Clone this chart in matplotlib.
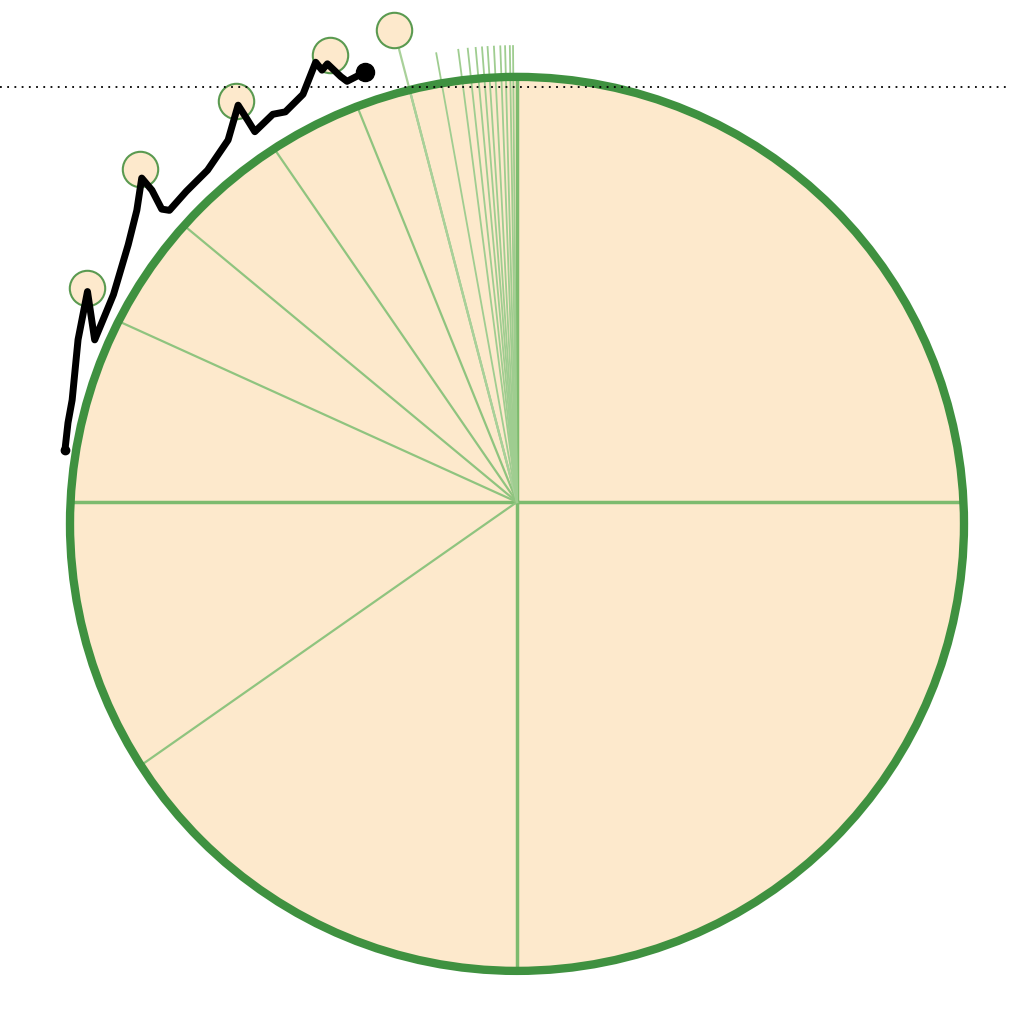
import numpy as np
import matplotlib.pyplot as plt
from matplotlib.patches import Circle

# slice boundaries (degrees, counter-clockwise from the right)
main_edges = [90, 0, 270, 180]
slice_edges = [215, 155.6, 140.3, 124.5, 112, 104.6]
thin_edges = [100.2, 97.4, 96.2, 95.2, 94.4, 93.7, 92.9, 92.1, 91.5, 90.9, 90.5]

# price trace along the rim: angle (deg) and distance from the hub
trace_ang = [173.4, 170.0, 167.1, 159.7, 153.9, 159.0, 155.8, 152.8, 146.5, 142.5, 139.2,
             139.5, 140.5, 140.0, 136.8, 133.0, 128.6, 125.1, 125.2, 125.3, 122.2,
             120.7, 117.7, 114.6, 114.3, 113.4, 112.5, 112.0, 109.5]
trace_r = [1.018, 1.020, 1.021, 1.047, 1.070, 1.012, 1.012, 1.015, 1.043, 1.072, 1.109,
           1.074, 1.030, 1.015, 1.015, 1.015, 1.036, 1.085, 1.045, 1.015, 1.025,
           1.015, 1.030, 1.082, 1.060, 1.068, 1.030, 1.015, 1.020]

# halving markers
halv_ang = [153.5, 138.5, 125.0, 112.7, 104.6]
halv_r = [1.075, 1.125, 1.095, 1.085, 1.09]

dotted_y = 0.928
cy = -0.049  # circle centre sits a bit below the hub of the slices


def rim(t):
    s = np.sin(t)
    return cy * s + np.sqrt(cy ** 2 * s ** 2 - cy ** 2 + 1)


fig = plt.figure(figsize=(10.12, 10.24), dpi=100)
ax = fig.add_axes([0, 0, 1, 1])
ax.set_xlim(-1.1566, 1.1074)
ax.set_ylim(-1.1678, 1.1230)
ax.axis('off')

ax.add_patch(Circle((0, cy), 1.0, facecolor='#fde9cc', edgecolor='none', zorder=1))

for a in main_edges:
    t = np.radians(a)
    ax.plot([0, rim(t) * np.cos(t)], [0, rim(t) * np.sin(t)], color='#7dbb6e', lw=2.5, zorder=2)
for a in slice_edges:
    t = np.radians(a)
    ax.plot([0, rim(t) * np.cos(t)], [0, rim(t) * np.sin(t)], color='#8fc47f', lw=1.6, zorder=2)
t = np.radians(104.6)
ax.plot([0, np.cos(t) * 1.07], [0, np.sin(t) * 1.07], color='#a9d19a', lw=1.6, zorder=2)
for a in thin_edges:
    t = np.radians(a)
    ax.plot([0, np.cos(t) * 1.02], [0, np.sin(t) * 1.02], color='#9fcd90', lw=1.3, zorder=2)

ax.add_patch(Circle((0, cy), 1.0, facecolor='none', edgecolor='#3f9140', lw=6, zorder=3))

ax.axhline(dotted_y, color='black', ls=(0, (1, 3)), lw=1.3, zorder=6)

ha = np.radians(halv_ang)
ax.scatter(np.cos(ha) * halv_r, np.sin(ha) * halv_r, s=650, facecolor='#fde9cc',
           edgecolor='#5a9a50', lw=1.5, zorder=4)

ta = np.radians(trace_ang)
tr = np.maximum(np.array(trace_r), rim(ta) + 0.02)
tx = np.cos(ta) * tr
ty = np.sin(ta) * tr
ax.plot(tx, ty, color='black', lw=5, solid_joinstyle='round', zorder=5)
ax.plot(tx[0], ty[0], 'o', color='black', ms=6, zorder=5)
ax.plot(tx[-1], ty[-1], 'o', color='black', ms=13, zorder=5)

fig.savefig('out.png', dpi=100)
